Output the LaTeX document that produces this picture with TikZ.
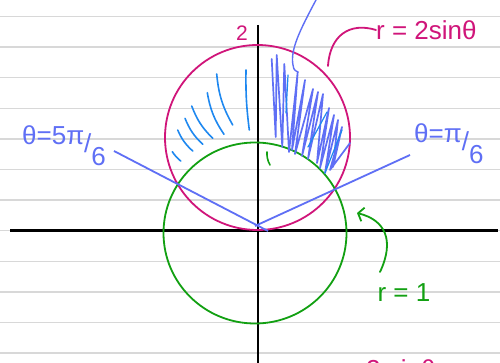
\documentclass[tikz,border=0pt]{standalone}
\usepackage{fontspec}
\setmainfont{Liberation Sans}
\usetikzlibrary{arrows.meta}
\definecolor{mag}{RGB}{208,21,122}
\definecolor{grn}{RGB}{18,160,18}
\definecolor{blu}{RGB}{95,111,245}
\definecolor{lblu}{RGB}{30,136,240}
\definecolor{rule}{RGB}{216,216,216}
\tikzset{
  ruleline/.style={draw=rule,line width=1.5pt},
  axis/.style={draw=black,line width=2.2pt},
  curve/.style={line width=1.8pt},
  hatchl/.style={draw=lblu,line width=1.6pt,line cap=round},
  hatchd/.style={draw=blu,line width=1.7pt,line cap=round,line join=round},
  lab/.style={inner sep=0pt,font=\fontsize{26}{26}\selectfont},
}
\begin{document}
\begin{tikzpicture}[x=1pt,y=-1pt]
\useasboundingbox (0,0) rectangle (500,363);
\clip (0,0) rectangle (500,363);
\fill[white] (0,0) rectangle (500,363);
% ruled lines
\foreach \k in {0,...,11}{
  \draw[ruleline] (0,{16.5+30.6*\k}) -- (500,{16.5+30.6*\k});
}
% axes
\draw[axis] (10,230.5) -- (498,230.5);
\draw[axis] (258,25) -- (258,363);
% circles
\draw[curve,draw=mag] (257.5,137.5) circle[radius=92.5];
\draw[curve,draw=grn] (255,233) ellipse[x radius=91.5,y radius=90.5];
% left light-blue hatching
\draw[hatchl] (216.7,74) to[bend right=12] (232.7,125);
\draw[hatchl] (246,70) to[bend right=4] (249.3,130);
\draw[hatchl] (207.3,92.7) to[bend right=12] (224,134.3);
\draw[hatchl] (191.7,106) to[bend right=12] (212.7,138.3);
\draw[hatchl] (185,118.3) to[bend right=12] (202.7,144.3);
\draw[hatchl] (177.7,130) to[bend right=12] (192.7,151);
\draw[hatchl] (172.3,151.7) to[bend right=8] (180.7,161);
% right dark zigzag hatching
\draw[hatchd] (271.7,59) -- (275.7,137) -- (276.7,55) -- (282.3,147) -- (284.3,64)
  -- (289,152) -- (297.7,72) -- (292,150) -- (305,80) -- (295,154) -- (313,89)
  -- (302,156) -- (318,92) -- (308,159) -- (323,94)
  -- (317,163) -- (329,108) -- (320,168) -- (334,115) -- (325,173) -- (338,120)
  -- (333,167) -- (342,127) -- (330,170) -- (350,143);
\draw[hatchl,line width=1.2pt] (288,75) -- (286,113);
\draw[hatchl,line width=1.2pt] (327,112) -- (308,147);
\draw[hatchl,line width=1.2pt] (342,130) -- (325,173);
% small green mark
\draw[grn,line width=1.6pt,line cap=round] (267,152) to[bend right=15] (270,165);
% theta lines
\draw[curve,draw=blu] (114,151) -- (268,231);
\draw[curve,draw=blu] (255,226) -- (410,155);
% labels
\node[lab,text=mag,font=\fontsize{21}{21}\selectfont] (two) at (242,33) {2};
\node[lab,text=mag,anchor=west] (rlab) at (376,30) {r = 2sinθ};
\node[lab,text=blu,anchor=west] (th1) at (22,146) {θ=5π\raisebox{-0.3em}{/}\raisebox{-0.8em}{6}};
\node[lab,text=blu,anchor=west] (th2) at (414,144) {θ=π\raisebox{-0.3em}{/}\raisebox{-0.8em}{6}};
\node[lab,text=grn] (r1) at (404,293) {r = 1};
\node[lab,text=mag,anchor=base west] (bot) at (366,378) {2 sinθ};
% pointers
\coordinate (mp) at (328,66);
\draw[curve,draw=mag,line cap=round] (mp) .. controls (330,35) and (350,22) .. (rlab.west);
\coordinate (bp0) at (316,0);
\coordinate (bp1) at (298,72);
\draw[curve,draw=blu,line width=1.4pt,line cap=round] (bp0) .. controls (300,30) and (290,50) .. (293,65) .. controls (294,70) .. (bp1);
\coordinate (gp) at (380,272);
\draw[curve,draw=grn,line cap=round,-{Straight Barb[length=5pt,width=14pt]}] (gp) .. controls (395,240) and (385,220) .. (357,213);
\end{tikzpicture}
\end{document}
